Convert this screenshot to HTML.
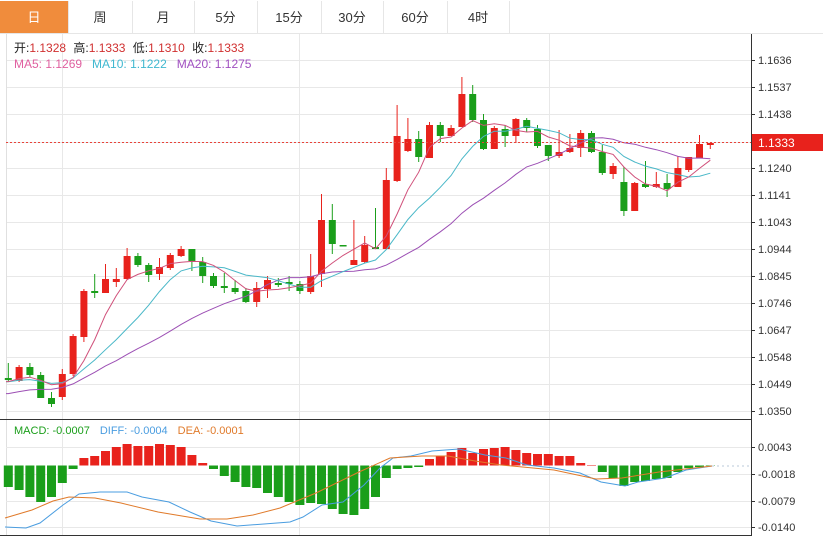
<!DOCTYPE html>
<html><head><meta charset="utf-8"><style>
body{margin:0;width:823px;height:538px;background:#fff;overflow:hidden;font-family:"Liberation Sans","Noto Sans CJK SC",sans-serif}
</style></head><body>
<svg id="s" width="823" height="538" xmlns="http://www.w3.org/2000/svg" style="position:absolute;left:0;top:0;font-family:'Liberation Sans','Noto Sans CJK SC',sans-serif"></svg>
<script>
var s=document.getElementById('s'),h='';
function L(x1,y1,x2,y2,c,w,d){h+='<line x1="'+x1+'" y1="'+y1+'" x2="'+x2+'" y2="'+y2+'" stroke="'+c+'" stroke-width="'+(w||1)+'"'+(d?' stroke-dasharray="'+d+'"':'')+'/>';}
function R(x,y,w,hh,c){h+='<rect x="'+x+'" y="'+y+'" width="'+w+'" height="'+hh+'" fill="'+c+'"/>';}
function T(x,y,t,c,sz,a){h+='<text x="'+x+'" y="'+y+'" fill="'+c+'" font-size="'+(sz||12)+'"'+(a?' text-anchor="'+a+'"':'')+'>'+t+'</text>';}
function P(pts,c){h+='<polyline fill="none" stroke="'+c+'" stroke-width="1" points="'+pts.map(function(p){return p.join(',')}).join(' ')+'"/>';}
// tabs
R(0,0,823,34,'#fff');L(0,33.5,823,33.5,'#e6e6e6');
R(0,1,68,32,'#f08c3c');
var tabs=['日','周','月','5分','15分','30分','60分','4时'],tb=[0,68,132,194,257,321,383,447,509];
for(var i=0;i<8;i++){T((tb[i]+tb[i+1])/2,22,tabs[i],i?'#333':'#fff',13,'middle');L(tb[i+1]+.5,1,tb[i+1]+.5,33,'#e6e6e6');}
// grid main
var lab=['1.1636','1.1537','1.1438','1.1333','1.1240','1.1141','1.1043','1.0944','1.0845','1.0746','1.0647','1.0548','1.0449','1.0350'];
for(i=0;i<14;i++){var y=60+i*27.0;if(i==3)y=142;L(6,y+.5,751,y+.5,'#e8e8e8');L(751,y+.5,755,y+.5,'#333');T(758,y+4,lab[i],'#333',11);}
[62,299,549].forEach(function(x){L(x+.5,34,x+.5,535,'#e8e8e8');});
L(6.5,34,6.5,535,'#e0e0e0');
L(751.5,34,751.5,536,'#333');
L(0,419.5,751,419.5,'#333');L(0,535.5,751,535.5,'#333');
// candles: [type, top, bot, wickTop, wickBot] in y
var C=[['g',378,380,363,382],['r',367,381,365,382],['g',367,375,363,377],['g',375,398,372,398],['g',398,404,392,407],['r',374,397,369,400],['r',336,374,334,376],['r',291,337,289,342],['g',291,293,274,298],['r',279,293,264,293],['r',279,282,268,287],['r',256,279,248,280],['g',256,265,253,267],['g',265,275,263,282],['r',267,274,258,280],['r',255,268,253,270],['r',249,256,246,257],['g',249,261,249,271],['g',262,276,257,283],['g',276,286,273,288],['g',286,288,273,293],['g',288,292,280,294],['g',291,302,288,303],['r',288,302,282,307],['r',280,289,276,298],['g',283,285,278,287],['g',282,284,276,291],['g',284,291,281,294],['r',276,292,254,294],['r',220,274,194,287],['g',220,244,204,254],['g',245,246,245,246],['r',260,265,220,265],['r',245,262,236,263],['g',247,249,208,249],['r',180,249,168,249],['r',136,181,105,182],['r',139,151,118,152],['g',139,157,131,162],['r',125,158,122,158],['g',125,136,122,142],['r',128,136,125,136],['r',94,127,77,127],['g',94,120,85,122],['g',120,149,114,150],['r',128,149,126,149],['g',129,136,125,147],['r',119,136,118,143],['g',120,128,118,132],['g',129,146,125,148],['g',145,156,145,161],['r',152,156,130,158],['r',148,152,134,153],['r',133,148,130,157],['g',133,152,131,153],['g',152,173,145,175],['r',166,174,163,179],['g',182,211,167,216],['r',183,211,182,211],['g',184,187,161,188],['r',184,187,172,188],['g',183,189,174,197],['r',168,187,156,187],['r',157,170,157,172],['r',144,158,135,158],['r',143,145,143,149]];
var RED='#e8221c',GRN='#1a9e1a';
function X(i){return 8.3+i*10.8;}
C.forEach(function(c,i){var x=X(i),col=c[0]=='r'?RED:GRN;L(x,c[3],x,c[4],col);R(x-3.5,c[1],7,Math.max(1.5,c[2]-c[1]),col);});
// MAs
var cl=C.map(function(c){return c[0]=='r'?c[1]:c[2];});
var pre=[];for(i=0;i<10;i++)pre.push(408);for(i=0;i<10;i++)pre.push(382);
var all=pre.concat(cl);
function ma(n,col){var pts=[];for(var i=0;i<cl.length;i++){var k=i+20,sm=0;for(var j=0;j<n;j++)sm+=all[k-j];pts.push([X(i).toFixed(1),(sm/n).toFixed(1)]);}pts.unshift([6,pts[0][1]]);P(pts,col);}
ma(20,'#9c4fb4');ma(10,'#4ab8c8');ma(5,'#d0507a');
// current price
L(6,142.5,751,142.5,'#e8433a',1,'2,2');
R(752,134,71,17,'#e8221c');T(758,147,'1.1333','#fff',12);
// legend
h+='<text x="14" y="52" font-size="12"><tspan fill="#222">开:</tspan><tspan fill="#d03030">1.1328 </tspan><tspan fill="#222" dx="4">高:</tspan><tspan fill="#d03030">1.1333 </tspan><tspan fill="#222" dx="4">低:</tspan><tspan fill="#d03030">1.1310 </tspan><tspan fill="#222" dx="4">收:</tspan><tspan fill="#d03030">1.1333</tspan></text>';
h+='<text x="14" y="68" font-size="12"><tspan fill="#e060a0">MA5: 1.1269</tspan><tspan fill="#40b8d0" dx="10">MA10: 1.1222</tspan><tspan fill="#a050c0" dx="10">MA20: 1.1275</tspan></text>';
// MACD grid
var ml=[['0.0043',447],['-0.0018',474],['-0.0079',501],['-0.0140',527]];
ml.forEach(function(m){L(6,m[1]+.5,751,m[1]+.5,'#e8e8e8');L(751,m[1]+.5,755,m[1]+.5,'#333');T(758,m[1]+4,m[0],'#333',11);});
var Z=465.5;
var B=[487,490,497,502,497,483,469,458,456,451,447,444,446,446,444,445,447,455,463,469,476,482,487,488,493,497,502,505,503,504,509,514,515,509,497,478,469,468,467,459,456,452,448,453,449,448,447,450,453,454,454,456,456,463,465,472,478,486,482,481,479,478,472,468,467,466];
B.forEach(function(v,i){var x=X(i)-4.5;if(v>Z)R(x,Z,9,v-Z,GRN);else R(x,v,9,Z-v,RED);});
P([[5,527],[26,528],[40,523],[63,505],[79,494],[100,492],[127,492],[142,497],[169,502],[190,512],[211,521],[237,526],[264,524],[290,522],[303,517],[322,505],[343,502],[364,485],[380,468],[393,458],[411,456],[432,451],[459,449],[485,455],[506,458],[527,465],[554,468],[580,473],[601,482],[625,486],[638,482],[665,478],[686,470],[712,466]],'#4a9de0');
P([[5,518],[32,510],[53,501],[69,497],[95,498],[121,503],[158,512],[200,519],[227,519],[253,515],[280,508],[316,493],[359,472],[390,458],[422,456],[448,456],[475,461],[501,465],[554,470],[596,479],[622,478],[659,472],[712,466]],'#e07a2a');
L(712,466,751,466,'#b8c8d8',1,'2,3');
h+='<text x="14" y="434" font-size="11"><tspan fill="#1a9e1a">MACD: -0.0007</tspan><tspan fill="#4a9de0" dx="10">DIFF: -0.0004</tspan><tspan fill="#e07a2a" dx="10">DEA: -0.0001</tspan></text>';
s.innerHTML=h;
</script>
</body></html>
